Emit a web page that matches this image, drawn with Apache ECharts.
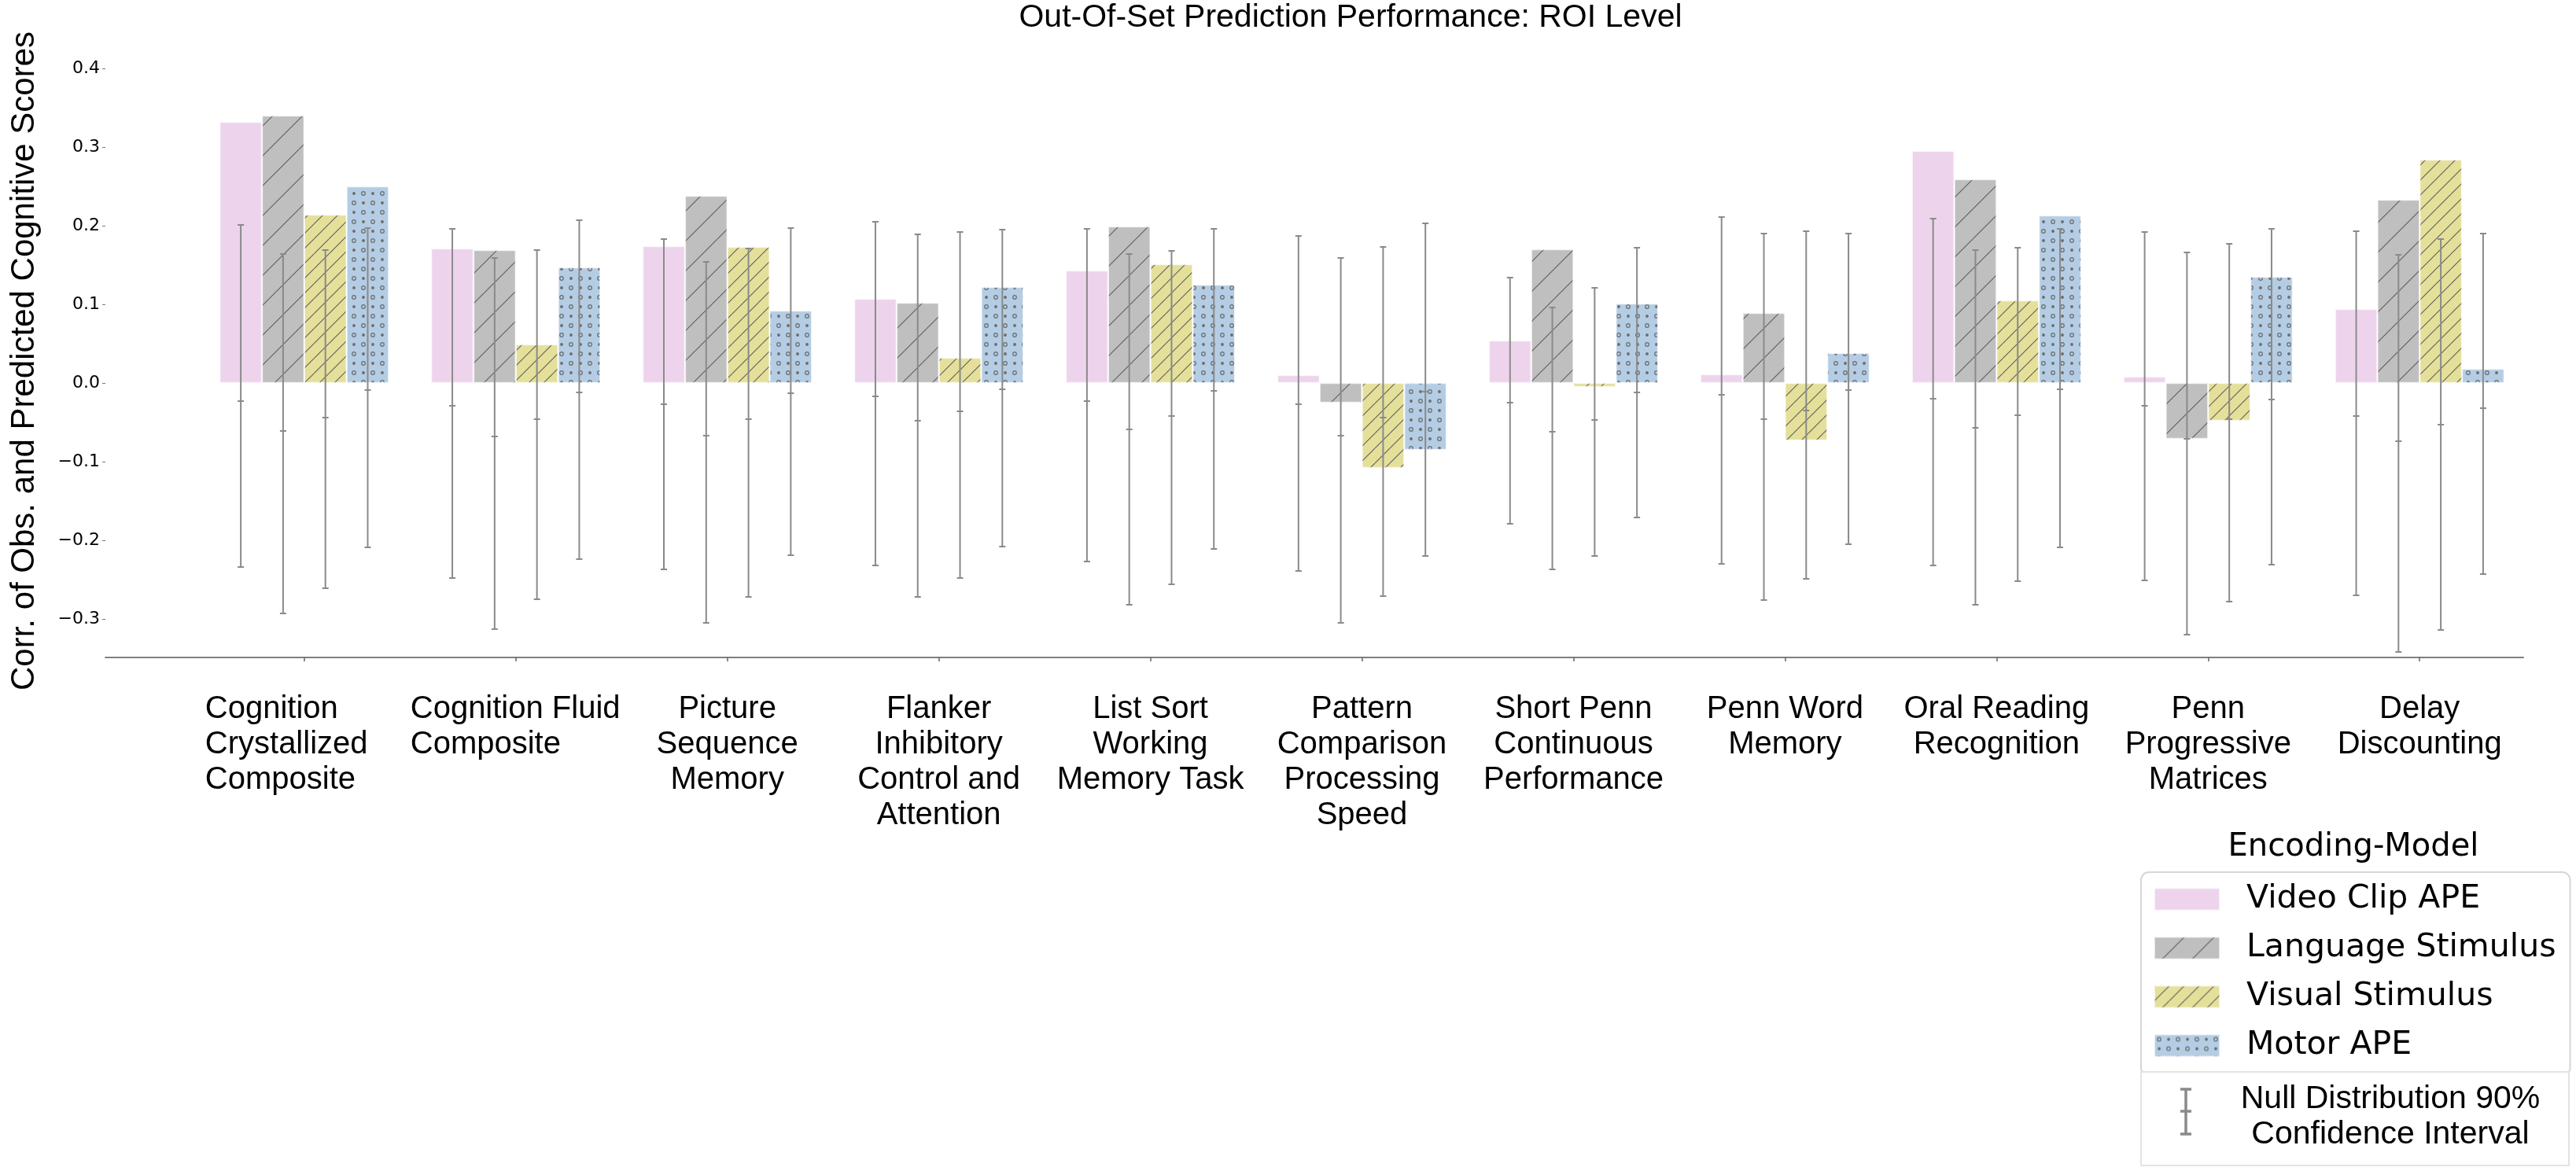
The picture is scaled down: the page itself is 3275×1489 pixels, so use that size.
<!DOCTYPE html>
<html>
<head>
<meta charset="utf-8">
<script src="https://cdn.jsdelivr.net/npm/echarts@6/dist/echarts.min.js"></script>
<style>
html,body{margin:0;padding:0;background:#ffffff;}
#chart{width:3275px;height:1489px;}
</style>
</head>
<body>
<div id="chart"></div>
<script>
// ---------------- data ----------------
const categories = [
  'Cognition\nCrystallized\nComposite',
  'Cognition Fluid\nComposite',
  'Picture\nSequence\nMemory',
  'Flanker\nInhibitory\nControl and\nAttention',
  'List Sort\nWorking\nMemory Task',
  'Pattern\nComparison\nProcessing\nSpeed',
  'Short Penn\nContinuous\nPerformance',
  'Penn Word\nMemory',
  'Oral Reading\nRecognition',
  'Penn\nProgressive\nMatrices',
  'Delay\nDiscounting'
];
const seriesNames = ['Video Clip APE', 'Language Stimulus', 'Visual Stimulus', 'Motor APE'];

const videoClipAPE     = [0.332, 0.171, 0.174, 0.107, 0.143, 0.010, 0.054, 0.011, 0.295, 0.008, 0.094];
const languageStimulus = [0.340, 0.169, 0.238, 0.102, 0.199, -0.025, 0.170, 0.089, 0.259, -0.071, 0.233];
const visualStimulus   = [0.214, 0.049, 0.173, 0.032, 0.151, -0.108, -0.005, -0.073, 0.105, -0.048, 0.284];
const motorAPE         = [0.250, 0.147, 0.092, 0.122, 0.125, -0.085, 0.101, 0.038, 0.213, 0.135, 0.018];

// Null distribution 90% confidence intervals (low, median, high)
const videoCILow   = [-0.234, -0.248, -0.237, -0.232, -0.227, -0.239, -0.179, -0.230, -0.232, -0.251, -0.270];
const videoCIMid   = [-0.023, -0.029, -0.027, -0.017, -0.023, -0.027, -0.025, -0.015, -0.020, -0.029, -0.042];
const videoCIHigh  = [0.201, 0.196, 0.183, 0.205, 0.196, 0.187, 0.134, 0.211, 0.209, 0.192, 0.193];

const languageCILow  = [-0.293, -0.313, -0.305, -0.272, -0.282, -0.305, -0.237, -0.276, -0.282, -0.320, -0.342];
const languageCIMid  = [-0.061, -0.068, -0.067, -0.048, -0.059, -0.067, -0.062, -0.046, -0.057, -0.071, -0.074];
const languageCIHigh = [0.164, 0.159, 0.154, 0.189, 0.164, 0.159, 0.096, 0.190, 0.169, 0.166, 0.163];

const visualCILow  = [-0.261, -0.275, -0.272, -0.248, -0.256, -0.271, -0.220, -0.249, -0.252, -0.278, -0.314];
const visualCIMid  = [-0.044, -0.046, -0.046, -0.036, -0.042, -0.044, -0.047, -0.035, -0.041, -0.046, -0.053];
const visualCIHigh = [0.169, 0.169, 0.171, 0.192, 0.168, 0.173, 0.121, 0.193, 0.172, 0.177, 0.183];

const motorCILow  = [-0.209, -0.224, -0.219, -0.208, -0.211, -0.220, -0.171, -0.205, -0.209, -0.231, -0.243];
const motorCIMid  = [-0.009, -0.012, -0.013, -0.008, -0.010, -0.011, -0.012, -0.009, -0.008, -0.021, -0.032];
const motorCIHigh = [0.197, 0.207, 0.197, 0.195, 0.196, 0.203, 0.172, 0.190, 0.196, 0.196, 0.190];

const yTickValues = [-0.3, -0.2, -0.1, 0.0, 0.1, 0.2, 0.3, 0.4];

// ---------------- styling helpers ----------------
function makePattern(bg, kind) {
  const s = kind === 'slash' ? 38 : (kind === 'slash2' ? 19 : (kind === 'dots' ? 24 : 8));
  const c = document.createElement('canvas');
  c.width = s; c.height = s;
  const g = c.getContext('2d');
  g.fillStyle = bg;
  g.fillRect(0, 0, s, s);
  if (kind === 'slash' || kind === 'slash2') {
    g.strokeStyle = '#5c5c5c';
    g.lineWidth = 1.1;
    [-1, 0, 1].forEach(function (k) {
      g.beginPath();
      g.moveTo(k * s, s);
      g.lineTo(k * s + s, 0);
      g.stroke();
    });
  } else if (kind === 'dots') {
    g.strokeStyle = '#6b6b6b';
    g.fillStyle = '#6b6b6b';
    g.lineWidth = 1.2;
    [[6, 6], [18, 18]].forEach(function (p) {
      g.beginPath(); g.arc(p[0], p[1], 2.3, 0, Math.PI * 2); g.stroke();
    });
    [[18, 6], [6, 18]].forEach(function (p) {
      g.beginPath(); g.arc(p[0], p[1], 1.9, 0, Math.PI * 2); g.fill();
    });
  }
  return { image: c, repeat: 'repeat' };
}

const colors = [
  makePattern('#edd4ec', 'solid'),
  makePattern('#bfbfbf', 'slash'),
  makePattern('#e4e09a', 'slash2'),
  makePattern('#b4cde4', 'dots')
];

const barValues = [videoClipAPE, languageStimulus, visualStimulus, motorAPE];
const ciLow  = [videoCILow, languageCILow, visualCILow, motorCILow];
const ciMid  = [videoCIMid, languageCIMid, visualCIMid, motorCIMid];
const ciHigh = [videoCIHigh, languageCIHigh, visualCIHigh, motorCIHigh];

const barFrac = 0.2;          // each bar takes 20% of a category
const catPositions = categories.map(function (_, i) { return i; });

const labelFont = 'Liberation Sans';

function xLabelFormatter(v) {
  const i = Math.round(v);
  const lines = categories[i].split('\n');
  if (i === 0) return lines.map(function (l) { return '{a|' + l + '}'; }).join('\n');
  if (i === 1) return lines.map(function (l) { return '{b|' + l + '}'; }).join('\n');
  return categories[i];
}

const series = [];
seriesNames.forEach(function (name, s) {
  series.push({
    type: 'bar',
    name: name,
    data: barValues[s].map(function (v, i) { return [i, v]; }),
    barWidth: '20%',
    barGap: '0%',
    itemStyle: { color: colors[s], borderColor: 'rgba(255,255,255,0.6)', borderWidth: 1.2 },
    emphasis: { disabled: true },
    z: 2
  });
});
seriesNames.forEach(function (name, s) {
  series.push({
    type: 'custom',
    name: 'ci_' + s,
    silent: true,
    z: 5,
    data: categories.map(function (_, i) { return [i, ciLow[s][i], ciMid[s][i], ciHigh[s][i]]; }),
    encode: { x: 0, y: [1, 2, 3] },
    renderItem: function (params, api) {
      const x = api.value(0) + (s - 1.5) * barFrac;
      const pLo = api.coord([x, api.value(1)]);
      const pMid = api.coord([x, api.value(2)]);
      const pHi = api.coord([x, api.value(3)]);
      const cap = 4;
      const st = { stroke: '#8a8a8a', lineWidth: 2 };
      return {
        type: 'group',
        children: [
          { type: 'line', shape: { x1: pLo[0], y1: pLo[1], x2: pHi[0], y2: pHi[1] }, style: st },
          { type: 'line', shape: { x1: pLo[0] - cap, y1: pLo[1], x2: pLo[0] + cap, y2: pLo[1] }, style: st },
          { type: 'line', shape: { x1: pHi[0] - cap, y1: pHi[1], x2: pHi[0] + cap, y2: pHi[1] }, style: st },
          { type: 'line', shape: { x1: pMid[0] - cap, y1: pMid[1], x2: pMid[0] + cap, y2: pMid[1] }, style: st }
        ]
      };
    }
  });
});

const chart = echarts.init(document.getElementById('chart'), null, { renderer: 'canvas' });
chart.setOption({
  animation: false,
  backgroundColor: '#ffffff',
  title: [
    {
      text: 'Out-Of-Set Prediction Performance: ROI Level',
      left: 1717, top: 2, textAlign: 'center', padding: 0,
      textStyle: { fontFamily: labelFont, fontSize: 41, fontWeight: 'normal', color: '#000' }
    },
    {
      text: 'Encoding-Model',
      left: 2992, top: 1058, textAlign: 'center', padding: 0,
      textStyle: { fontFamily: 'DejaVu Sans', fontSize: 40, fontWeight: 'normal', color: '#000' }
    }
  ],
  grid: { left: 134, right: 67, top: 82, bottom: 653, containLabel: false, outerBoundsMode: 'none' },
  legend: {
    data: seriesNames,
    orient: 'vertical',
    left: 2722, top: 1109,
    itemWidth: 83, itemHeight: 28, itemGap: 21,
    icon: 'rect',
    selectedMode: false,
    padding: [14, 18, 18, 16],
    backgroundColor: '#ffffff',
    borderColor: '#d6d6d6', borderWidth: 2, borderRadius: 10,
    textStyle: { fontFamily: 'DejaVu Sans', fontSize: 41, color: '#000', padding: [0, 0, 0, 29] }
  },
  xAxis: {
    type: 'value',
    min: -0.94, max: 10.49,
    splitLine: { show: false },
    axisLine: { show: true, onZero: false, lineStyle: { color: '#808080', width: 2 } },
    axisTick: { show: true, customValues: catPositions, length: 5, lineStyle: { color: '#666', width: 1.5 } },
    axisLabel: {
      customValues: catPositions,
      formatter: xLabelFormatter,
      margin: 43,
      fontFamily: labelFont, fontSize: 40, lineHeight: 45, color: '#000',
      align: 'center',
      rich: {
        a: { width: 252, align: 'left', fontFamily: labelFont, fontSize: 40, lineHeight: 45, color: '#000' },
        b: { width: 268, align: 'left', fontFamily: labelFont, fontSize: 40, lineHeight: 45, color: '#000' }
      }
    }
  },
  yAxis: {
    type: 'value',
    min: -0.349, max: 0.405,
    splitLine: { show: false },
    axisLine: { show: false, onZero: false },
    axisTick: { show: true, customValues: yTickValues, length: 4, lineStyle: { color: '#777', width: 1 } },
    axisLabel: {
      customValues: yTickValues,
      formatter: function (v) { return (v < -1e-9 ? '\u2212' : '') + Math.abs(v).toFixed(1); },
      fontFamily: 'DejaVu Sans', fontSize: 22, color: '#000', margin: 7
    },
    name: 'Corr. of Obs. and Predicted Cognitive Scores',
    nameLocation: 'middle',
    nameGap: 82,
    nameTextStyle: { fontFamily: labelFont, fontSize: 42, color: '#000' }
  },
  graphic: [
    { type: 'rect', shape: { x: 2722, y: 1363, width: 544, height: 119 }, style: { fill: '#ffffff', stroke: '#e3e3e3', lineWidth: 2 }, z: 10 },
    { type: 'line', shape: { x1: 2779, y1: 1385, x2: 2779, y2: 1442 }, style: { stroke: '#8a8a8a', lineWidth: 3.5 }, z: 11 },
    { type: 'line', shape: { x1: 2772, y1: 1385, x2: 2786, y2: 1385 }, style: { stroke: '#8a8a8a', lineWidth: 3.5 }, z: 11 },
    { type: 'line', shape: { x1: 2772, y1: 1442, x2: 2786, y2: 1442 }, style: { stroke: '#8a8a8a', lineWidth: 3.5 }, z: 11 },
    { type: 'line', shape: { x1: 2772, y1: 1413, x2: 2786, y2: 1413 }, style: { stroke: '#8a8a8a', lineWidth: 3.5 }, z: 11 },
    { type: 'text', x: 3039, y: 1420, z: 11,
      style: { text: 'Null Distribution 90%\nConfidence Interval', fontFamily: labelFont, fontSize: 41, lineHeight: 45, fill: '#000', align: 'center', verticalAlign: 'middle' } }
  ],
  series: series
});
</script>
</body>
</html>
